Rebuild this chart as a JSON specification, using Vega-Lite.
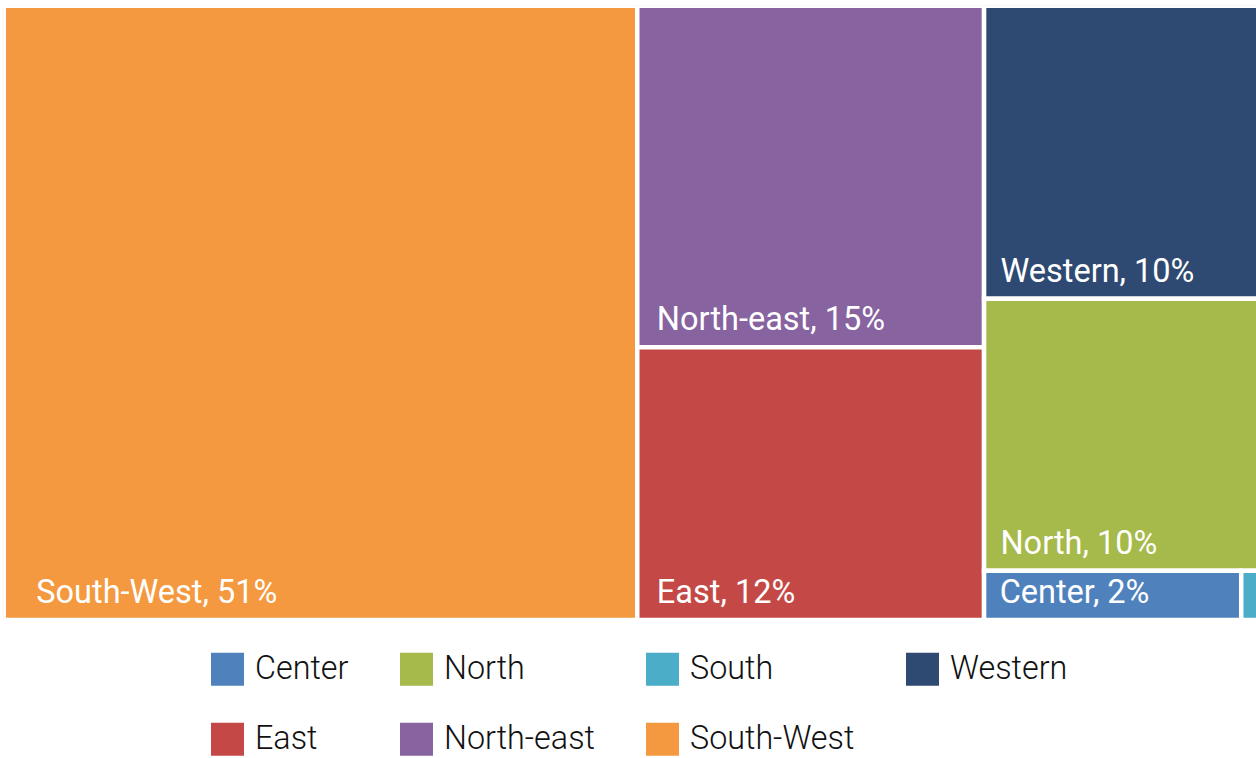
{
  "$schema": "https://vega.github.io/schema/vega-lite/v6.json",
  "width": 1252.25,
  "height": 614.25,
  "autosize": "none",
  "padding": {"left": 3.75, "top": 5.75, "right": 0, "bottom": 138},
  "background": "white",
  "config": {"view": {"stroke": null}},
  "data": {
    "values": [
      {"region": "South-West", "value": 50.6, "col": 1, "row": 1},
      {"region": "North-east", "value": 15.4, "col": 2, "row": 1},
      {"region": "East", "value": 12.3, "col": 2, "row": 2},
      {"region": "Western", "value": 10.45, "col": 3, "row": 1},
      {"region": "North", "value": 9.7, "col": 3, "row": 2},
      {"region": "Center", "value": 1.65, "col": 3, "row": 3},
      {"region": "South", "value": 0.11, "col": 3, "row": 3}
    ]
  },
  "transform": [
    {"joinaggregate": [{"op": "sum", "field": "value", "as": "colTotal"}], "groupby": ["col"]},
    {"joinaggregate": [{"op": "sum", "field": "value", "as": "rowTotal"}], "groupby": ["col", "row"]},
    {"window": [{"op": "sum", "field": "value", "as": "cumAll"}], "sort": [{"field": "col"}, {"field": "row"}, {"field": "value", "order": "descending"}], "frame": [null, 0]},
    {"calculate": "datum.cumAll - datum.value", "as": "startAll"},
    {"joinaggregate": [{"op": "min", "field": "startAll", "as": "colX0"}], "groupby": ["col"]},
    {"window": [{"op": "sum", "field": "value", "as": "cumCol"}], "groupby": ["col"], "sort": [{"field": "row"}, {"field": "value", "order": "descending"}], "frame": [null, 0]},
    {"calculate": "datum.cumCol - datum.value", "as": "startCol"},
    {"joinaggregate": [{"op": "min", "field": "startCol", "as": "rowY0"}], "groupby": ["col", "row"]},
    {"window": [{"op": "sum", "field": "value", "as": "cumRow"}], "groupby": ["col", "row"], "sort": [{"field": "value", "order": "descending"}], "frame": [null, 0]},
    {"calculate": "datum.colX0 + (datum.cumRow - datum.value) / datum.rowTotal * datum.colTotal", "as": "x0"},
    {"calculate": "datum.colX0 + datum.cumRow / datum.rowTotal * datum.colTotal", "as": "x1"},
    {"calculate": "datum.rowY0 / datum.colTotal * 100", "as": "y0"},
    {"calculate": "(datum.rowY0 + datum.rowTotal) / datum.colTotal * 100", "as": "y1"},
    {"calculate": "datum.x0 + 0.045 * (datum.x1 - datum.x0)", "as": "lx"},
    {"calculate": "datum.region + ', ' + format(datum.value, '.0f') + '%'", "as": "label"}
  ],
  "layer": [
    {
      "mark": {"type": "rect", "stroke": "white", "strokeWidth": 4.5, "clip": true},
      "encoding": {
        "x": {"field": "x0", "type": "quantitative", "scale": {"domain": [0, 100.02], "nice": false, "zero": false}, "axis": null},
        "x2": {"field": "x1"},
        "y": {"field": "y0", "type": "quantitative", "scale": {"domain": [0, 100], "reverse": true, "nice": false}, "axis": null},
        "y2": {"field": "y1"},
        "color": {
          "field": "region",
          "type": "nominal",
          "scale": {
            "domain": ["Center", "North", "South", "Western", "East", "North-east", "South-West"],
            "range": ["#4F82BD", "#A5BA4A", "#4BADC7", "#2F4A72", "#C44946", "#8763A0", "#F4993F"]
          },
          "legend": {
            "orient": "none",
            "legendX": 207.25,
            "legendY": 647,
            "direction": "horizontal",
            "columns": 4,
            "columnPadding": 51,
            "rowPadding": 37,
            "title": null,
            "padding": 0,
            "symbolType": "square",
            "symbolSize": 1089,
            "symbolStrokeWidth": 0,
            "symbolOpacity": 1,
            "labelFont": "Roboto",
            "labelFontSize": 32.3,
            "labelFontWeight": 300,
            "labelColor": "#111111",
            "labelOffset": 11,
            "labelLimit": 400
          }
        }
      }
    },
    {
      "transform": [{"filter": "datum.value > 1"}],
      "mark": {"type": "text", "align": "left", "baseline": "alphabetic", "dx": 4, "dy": -17, "font": "Roboto", "fontSize": 32.5, "color": "white"},
      "encoding": {
        "x": {"field": "lx", "type": "quantitative"},
        "y": {"field": "y1", "type": "quantitative"},
        "text": {"field": "label", "type": "nominal"}
      }
    }
  ]
}
